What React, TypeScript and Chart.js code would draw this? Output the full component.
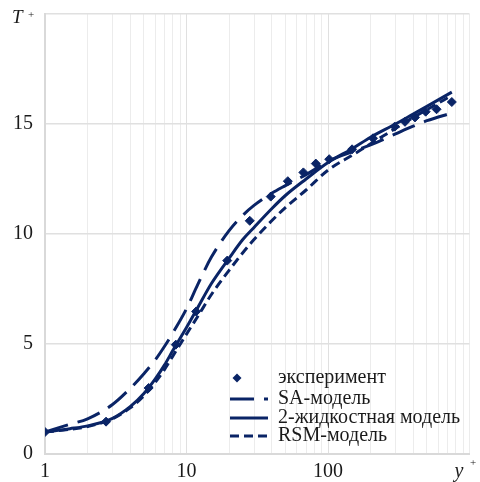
import React, { useEffect, useRef } from 'react';
import { Chart, registerables } from 'chart.js';

Chart.register(...registerables);

// ---- data ----
const modelX = [1, 1.5, 2, 3, 4, 5, 6, 7, 8, 10, 12, 15, 20, 25, 30, 40, 50, 70, 100, 150, 200, 300, 400, 500, 750];
const saModel = [1.0, 1.35, 1.6, 2.25, 2.98, 3.65, 4.27, 4.9, 5.5, 6.6, 7.7, 8.95, 10.15, 10.85, 11.3, 11.85, 12.2, 12.7, 13.3, 13.75, 14.05, 14.55, 14.9, 15.15, 15.5];
const twoFluidModel = [1.0, 1.15, 1.28, 1.62, 2.15, 2.75, 3.4, 4.05, 4.7, 5.75, 6.65, 7.75, 8.9, 9.75, 10.3, 11.15, 11.75, 12.5, 13.25, 13.9, 14.4, 15.0, 15.45, 15.8, 16.45];
const rsmModel = [1.0, 1.12, 1.25, 1.6, 2.1, 2.65, 3.25, 3.85, 4.45, 5.45, 6.25, 7.25, 8.35, 9.15, 9.75, 10.6, 11.2, 12.0, 12.9, 13.6, 14.1, 14.8, 15.3, 15.65, 16.3];
const expX = [1, 2.7, 5.4, 8.4, 11.7, 19.4, 28, 39.4, 52, 67, 82, 102, 148, 208, 296, 350, 412, 490, 585, 750];
const expT = [1.0, 1.47, 3.0, 4.97, 6.48, 8.79, 10.6, 11.7, 12.4, 12.8, 13.2, 13.4, 13.85, 14.35, 14.88, 15.1, 15.3, 15.56, 15.67, 16.0];
const seriesLabels = ['эксперимент', 'SA-модель', '2-жидкостная модель', 'RSM-модель'];
const xLabelValues = [1, 10, 100];
const xMin = 1;
const xMax = 1000;
const yTicks = [0, 5, 10, 15, 20];
const xTitle = 'y';
const yTitle = 'T';

const navy = '#0a2466';
const serif = '"Liberation Serif", "Times New Roman", serif';

const logTickValues = (() => {
  const out: number[] = [];
  for (let e = 0; e < 3; e++) for (let s = 1; s < 10; s++) out.push(s * Math.pow(10, e));
  out.push(1000);
  return out;
})();

const legendPlugin = {
  id: 'innerLegend',
  afterDraw(chart: any) {
    const { ctx, chartArea } = chart;
    const x0 = chartArea.left + 185;
    const offsets = [76, 55, 36, 18];
    ctx.save();
    chart.data.datasets.forEach((ds: any, i: number) => {
      const y = chartArea.bottom - offsets[i];
      if (ds.showLine === false) {
        const cx = x0 + 7;
        const r = 4.5;
        ctx.beginPath();
        ctx.moveTo(cx, y - r);
        ctx.lineTo(cx + r, y);
        ctx.lineTo(cx, y + r);
        ctx.lineTo(cx - r, y);
        ctx.closePath();
        ctx.fillStyle = ds.backgroundColor;
        ctx.fill();
      } else {
        ctx.beginPath();
        ctx.setLineDash(ds.borderDash || []);
        ctx.lineWidth = ds.borderWidth;
        ctx.strokeStyle = ds.borderColor;
        ctx.moveTo(x0, y);
        ctx.lineTo(x0 + 38, y);
        ctx.stroke();
        ctx.setLineDash([]);
      }
      ctx.font = `20px ${serif}`;
      ctx.fillStyle = '#1a1a1a';
      ctx.textBaseline = 'middle';
      ctx.textAlign = 'left';
      ctx.fillText(ds.label, x0 + 48, y);
    });

    // axis titles
    ctx.fillStyle = '#1a1a1a';
    ctx.textBaseline = 'alphabetic';
    ctx.textAlign = 'left';
    ctx.font = `italic 19px ${serif}`;
    ctx.fillText(yTitle, chartArea.left - 33, chartArea.top + 9);
    ctx.font = `11px ${serif}`;
    ctx.textBaseline = 'middle';
    ctx.textAlign = 'center';
    ctx.fillText('+', chartArea.left - 14, chartArea.top + 1);

    ctx.font = `italic 20px ${serif}`;
    ctx.textBaseline = 'alphabetic';
    ctx.textAlign = 'left';
    ctx.fillText(xTitle, chartArea.right - 15, chartArea.bottom + 23);
    ctx.font = `11px ${serif}`;
    ctx.textBaseline = 'middle';
    ctx.textAlign = 'center';
    ctx.fillText('+', chartArea.right + 3.5, chartArea.bottom + 9);
    ctx.restore();
  },
};

export default function App() {
  const ref = useRef<HTMLCanvasElement | null>(null);

  useEffect(() => {
    document.body.style.margin = '0';
    if (!ref.current) return;
    const lineDs = (label: string, ys: number[], dash: number[]) => ({
      label,
      data: modelX.map((x, i) => ({ x, y: ys[i] })),
      borderColor: navy,
      backgroundColor: navy,
      borderWidth: 3,
      borderDash: dash,
      pointRadius: 0,
      fill: false,
      cubicInterpolationMode: 'monotone' as const,
      showLine: true,
    });
    const chart = new Chart(ref.current, {
      type: 'scatter',
      data: {
        datasets: [
          {
            label: seriesLabels[0],
            data: expX.map((x, i) => ({ x, y: expT[i] })),
            showLine: false,
            pointStyle: 'rectRot',
            pointRadius: 4.5,
            backgroundColor: navy,
            borderColor: navy,
            borderWidth: 1,
          } as any,
          lineDs(seriesLabels[1], saModel, [24, 10]),
          lineDs(seriesLabels[2], twoFluidModel, []),
          lineDs(seriesLabels[3], rsmModel, [9, 5]),
        ],
      },
      options: {
        animation: false,
        responsive: true,
        maintainAspectRatio: false,
        layout: { padding: { top: 14, right: 10.5, left: 0, bottom: 0 } },
        plugins: { legend: { display: false }, tooltip: { enabled: false } },
        scales: {
          x: {
            type: 'logarithmic',
            min: xMin,
            max: xMax,
            afterBuildTicks: (s: any) => {
              s.ticks = logTickValues.map((v) => ({ value: v, major: xLabelValues.includes(v) }));
            },
            afterFit: (s: any) => {
              s.height = 28;
              s.paddingLeft = 0;
              s.paddingRight = 0;
            },
            ticks: {
              autoSkip: false,
              maxRotation: 0,
              padding: 6,
              color: '#1a1a1a',
              font: { family: serif, size: 20 },
              callback: (v: any) => (xLabelValues.includes(Number(v)) ? String(v) : ''),
            },
            grid: {
              drawTicks: false,
              color: (c: any) => (c.tick && xLabelValues.includes(c.tick.value) ? '#e0e0e0' : '#ececec'),
              lineWidth: 1,
            },
            border: { color: '#d9d9d9', width: 2 },
          },
          y: {
            type: 'linear',
            min: 0,
            max: 20,
            afterBuildTicks: (s: any) => {
              s.ticks = yTicks.map((v) => ({ value: v }));
            },
            afterFit: (s: any) => {
              s.width = 45;
              s.paddingTop = 0;
              s.paddingBottom = 0;
            },
            ticks: {
              padding: 12,
              color: '#1a1a1a',
              font: { family: serif, size: 20 },
              callback: (v: any) => (Number(v) === 20 ? '' : String(v)),
            },
            grid: { drawTicks: false, color: '#e0e0e0', lineWidth: 1.5 },
            border: { color: '#d9d9d9', width: 2 },
          },
        },
      },
      plugins: [legendPlugin],
    });
    return () => chart.destroy();
  }, []);

  return (
    <div style={{ width: 480, height: 482, position: 'relative', background: '#fff' }}>
      <canvas ref={ref} />
    </div>
  );
}
